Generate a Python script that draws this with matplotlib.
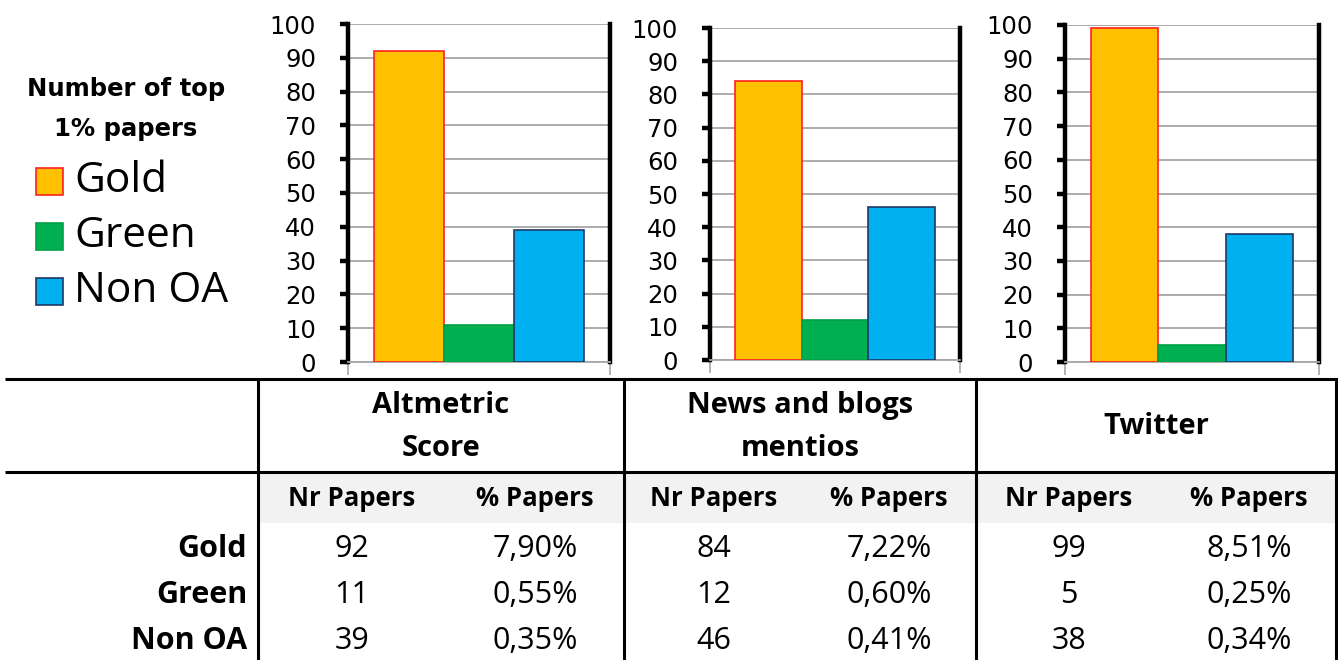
import matplotlib
matplotlib.use("Agg")
import matplotlib.pyplot as plt
from matplotlib.patches import Rectangle

# ---------------- data ----------------
metrics = ["Altmetric\nScore", "News and blogs\nmentios", "Twitter"]
groups = ["Gold", "Green", "Non OA"]
altmetric_nr = [92, 11, 39]
news_nr = [84, 12, 46]
twitter_nr = [99, 5, 38]
altmetric_pct = ["7,90%", "0,55%", "0,35%"]
news_pct = ["7,22%", "0,60%", "0,41%"]
twitter_pct = ["8,51%", "0,25%", "0,34%"]
sub_headers = ["Nr Papers", "% Papers"]
legend_title = "Number of top\n1% papers"
y_ticks = [0, 10, 20, 30, 40, 50, 60, 70, 80, 90, 100]

nr_series = [altmetric_nr, news_nr, twitter_nr]
pct_series = [altmetric_pct, news_pct, twitter_pct]

# ---------------- style ----------------
face = ["#FFC000", "#00B050", "#00B0F0"]
edge = ["#FF2020", "#00A048", "#1F3864"]
W, H = 1338, 660
fig = plt.figure(figsize=(W / 100, H / 100), dpi=100)

TABLE_FONT = "Open Sans"

# background axes in pixel coordinates for table + legend
bg = fig.add_axes([0, 0, 1, 1])
bg.set_xlim(0, W)
bg.set_ylim(H, 0)
bg.axis("off")

# ---------------- bar charts ----------------
chart_px = [(348, 610, 24, 362), (710, 960, 28, 360), (1065, 1319, 25, 362)]
for (x0, x1, yt, yb), vals in zip(chart_px, nr_series):
    ax = fig.add_axes([x0 / W, (H - yb) / H, (x1 - x0) / W, (yb - yt) / H])
    ax.bar(range(len(vals)), vals, width=1.0, color=face, edgecolor=edge,
           linewidth=1.2, zorder=3)
    ax.set_xlim(-0.88, 2.88)
    ax.set_ylim(0, 100)
    ax.set_yticks(y_ticks)
    ax.yaxis.grid(True, color="#A6A6A6", linewidth=1.3, zorder=0)
    ax.set_axisbelow(True)
    ax.spines["left"].set_linewidth(3.2)
    ax.spines["left"].set_color("black")
    ax.spines["right"].set_linewidth(3.2)
    ax.spines["right"].set_color("black")
    ax.spines["top"].set_visible(False)
    ax.spines["bottom"].set_color("#A6A6A6")
    ax.spines["bottom"].set_linewidth(1.3)
    ax.tick_params(axis="y", direction="out", length=6, width=3.2,
                   color="black", labelsize=17.5, pad=17, right=False)
    ax.set_xticks([-0.88, 2.88])
    ax.set_xticklabels([])
    ax.tick_params(axis="x", direction="out", length=9, width=1.2,
                   color="#A6A6A6")
    for lab in ax.get_yticklabels():
        lab.set_family("DejaVu Sans")

# ---------------- legend ----------------
bg.text(126, 109, legend_title, ha="center", va="center", fontsize=17.5,
        fontweight="bold", family="DejaVu Sans", linespacing=1.85)
leg_y = [181, 236, 291]
for gname, fc, ec, yy in zip(groups, face, edge, leg_y):
    bg.add_patch(Rectangle((36, yy - 13), 27, 27, facecolor=fc,
                           edgecolor=ec, linewidth=1.2))
    bg.text(74, yy, gname, ha="left", va="center", fontsize=30.5,
            family="Open Sans")

# ---------------- table ----------------
bg.add_patch(Rectangle((258, 472), 1336 - 258, 51, facecolor="#F2F2F2",
                       edgecolor="none"))
lw = 2.2
bg.plot([5, W], [379, 379], color="black", lw=lw, solid_capstyle="butt")
bg.plot([5, W], [472, 472], color="black", lw=lw, solid_capstyle="butt")
for xv in [258, 624, 976, 1336]:
    bg.plot([xv, xv], [379, H], color="black", lw=lw, solid_capstyle="butt")

block_centers = [441, 800, 1156]
nr_cx = [352, 714, 1069]
pct_cx = [535, 889, 1249]
row_y = [549, 595, 641]

for name, bc in zip(metrics, block_centers):
    bg.text(bc, 427, name, ha="center", va="center", fontsize=21,
            fontweight="bold", family=TABLE_FONT, linespacing=1.62)
for nc, pc in zip(nr_cx, pct_cx):
    bg.text(nc, 499, sub_headers[0], ha="center", va="center", fontsize=18.5,
            fontweight="bold", family=TABLE_FONT)
    bg.text(pc, 499, sub_headers[1], ha="center", va="center", fontsize=18.5,
            fontweight="bold", family=TABLE_FONT)
for gname, yy in zip(groups, row_y):
    bg.text(247, yy, gname, ha="right", va="center", fontsize=22,
            fontweight="bold", family=TABLE_FONT)
for nr, pc_list, nc, pc in zip(nr_series, pct_series, nr_cx, pct_cx):
    for v, p, yy in zip(nr, pc_list, row_y):
        bg.text(nc, yy, str(v), ha="center", va="center", fontsize=22,
                family=TABLE_FONT)
        bg.text(pc, yy, p, ha="center", va="center", fontsize=22,
                family=TABLE_FONT)

fig.savefig("out.png", dpi=100)
